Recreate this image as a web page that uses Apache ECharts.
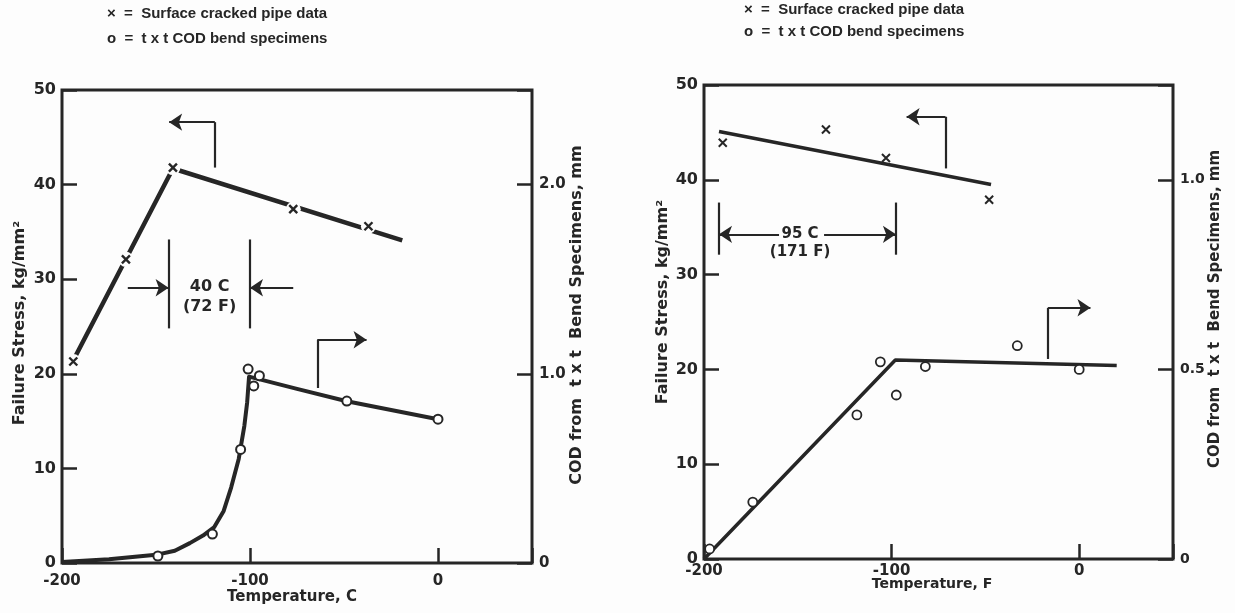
<!DOCTYPE html>
<html>
<head>
<meta charset="utf-8">
<script src="https://cdn.jsdelivr.net/npm/echarts@6/dist/echarts.min.js"></script>
<style>
  html, body { margin: 0; padding: 0; background: #fdfdfd; }
  #chart { width: 1235px; height: 613px; }
</style>
</head>
<body>
<div id="chart"></div>
<script>
// ---------- Left panel: temperature in degrees C ----------
const tempTicksC = ['-200', '-100', '0'];
const pipeTempC = [-194, -166, -141, -77, -37];
const pipeStressC = [21.3, 32.1, 41.8, 37.4, 35.6];
const pipeFitTempC = [-193, -141, -19];
const pipeFitStressC = [21.8, 41.7, 34.1];
const codTempC = [-149, -120, -105, -101, -98, -95, -48.5, 0];
const codC = [0.037, 0.153, 0.60, 1.025, 0.936, 0.99, 0.856, 0.76];
const codFitTempC = [-200, -175, -150, -140, -132, -125, -119, -114, -110, -106, -103, -101.5, -100.5, -75, -48.5, 0];
const codFitC = [0.005, 0.02, 0.043, 0.065, 0.105, 0.145, 0.19, 0.275, 0.40, 0.55, 0.725, 0.85, 0.985, 0.92, 0.855, 0.76];
// guide marks (stress units on the left axis)
const guideLinesC = [
  [[-118.7, 41.8], [-118.7, 46.6]],
  [[-64.2, 18.5], [-64.2, 23.6]],
  [[-143.3, 24.8], [-143.3, 34.2]],
  [[-100, 24.8], [-100, 34.2]]
];
const guideArrowsC = [
  [[-118.7, 46.6], [-143, 46.6]],
  [[-64.2, 23.6], [-38, 23.6]],
  [[-165, 29.1], [-143.3, 29.1]],
  [[-77, 29.1], [-100, 29.1]]
];
const guideTextC = [['40 C', -121.5, 29.2], ['(72 F)', -121.5, 27.1]];

// ---------- Right panel: temperature in degrees F ----------
const tempTicksF = ['-200', '-100', '0'];
const pipeTempF = [-190, -135, -103, -48];
const pipeStressF = [43.9, 45.3, 42.3, 37.9];
const pipeFitTempF = [-192, -47];
const pipeFitStressF = [45.1, 39.5];
const codTempF = [-197, -174, -118.5, -106, -97.5, -82, -33, 0];
const codF = [0.0265, 0.15, 0.38, 0.52, 0.4325, 0.5075, 0.5625, 0.50];
const codFitTempF = [-200, -98, 20];
const codFitF = [0, 0.525, 0.51];
const guideLinesF = [
  [[-71.3, 41.2], [-71.3, 46.65]],
  [[-16.6, 21.1], [-16.6, 26.5]],
  [[-192, 32.1], [-192, 37.6]],
  [[-97.7, 32.1], [-97.7, 37.6]]
];
const guideArrowsF = [
  [[-71.3, 46.65], [-92, 46.65]],
  [[-16.6, 26.5], [6, 26.5]],
  [[-160, 34.25], [-192, 34.25]],
  [[-136, 34.25], [-97.7, 34.25]]
];
const guideTextF = [['95 C', -148.8, 34.3], ['(171 F)', -148.8, 32.4]];

const legendLines = ['×  =  Surface cracked pipe data', 'o  =  t x t COD bend specimens'];
const stressTitle = 'Failure Stress, kg/mm²';
const codTitle = 'COD from  t x t  Bend Specimens, mm';

const INK = '#262626';
const BG = '#fdfdfd';
const FONT = '"DejaVu Sans", sans-serif';
const LEGEND_FONT = '"Liberation Sans", sans-serif';
const xMark = 'path://M0,0L10,10M10,0L0,10';

const zip = (xs, ys) => xs.map((x, i) => [x, ys[i]]);

function tempAxis(gridIndex, ticks) {
  return {
    type: 'value', gridIndex, min: -200, max: 50, interval: 100,
    axisLine: { show: false, onZero: false },
    axisTick: { inside: true, length: 15, lineStyle: { color: INK, width: 2.5 } },
    axisLabel: {
      color: INK, fontFamily: FONT, fontWeight: 'bold', fontSize: 15, margin: gridIndex === 0 ? 11 : 5,
      formatter: v => ticks.includes(String(v)) ? String(v) : ''
    },
    splitLine: { show: false }
  };
}
function stressAxis(gridIndex) {
  return {
    type: 'value', gridIndex, position: 'left', min: 0, max: 50, interval: 10,
    axisLine: { show: false, onZero: false },
    axisTick: { inside: true, length: 15, lineStyle: { color: INK, width: 2.5 } },
    axisLabel: { color: INK, fontFamily: FONT, fontWeight: 'bold', fontSize: 16, margin: 6 },
    splitLine: { show: false }
  };
}
function codAxis(gridIndex, max, interval, size) {
  return {
    type: 'value', gridIndex, position: 'right', min: 0, max, interval,
    axisLine: { show: false, onZero: false },
    axisTick: { inside: true, length: 15, lineStyle: { color: INK, width: 2.5 } },
    axisLabel: {
      color: INK, fontFamily: FONT, fontWeight: 'bold', fontSize: size, margin: 7,
      formatter: v => v === 0 ? '0' : (v > max - 1e-9 ? '' : v.toFixed(1))
    },
    splitLine: { show: false }
  };
}

function guideSeries(xi, yi, lines, arrows, texts, textSize) {
  return [
    {
      type: 'lines', coordinateSystem: 'cartesian2d', xAxisIndex: xi, yAxisIndex: yi,
      data: lines.map(c => ({ coords: c })), symbol: 'none', silent: true,
      lineStyle: { color: INK, width: 2.2, opacity: 1 }, z: 3
    },
    {
      type: 'lines', coordinateSystem: 'cartesian2d', xAxisIndex: xi, yAxisIndex: yi,
      data: arrows.map(c => ({ coords: c })), symbol: ['none', 'arrow'], symbolSize: 13, silent: true,
      lineStyle: { color: INK, width: 2.2, opacity: 1 }, z: 3
    },
    {
      type: 'scatter', xAxisIndex: xi, yAxisIndex: yi, symbolSize: 0, silent: true,
      itemStyle: { opacity: 1 },
      data: texts.map(t => ({ name: t[0], value: [t[1], t[2]] })),
      label: { show: true, position: 'inside', formatter: p => p.name, color: INK, fontFamily: FONT,
        fontWeight: 'bold', fontSize: textSize, opacity: 1 },
      z: 4
    }
  ];
}

const chart = echarts.init(document.getElementById('chart'), null, { renderer: 'canvas' });

const option = {
  backgroundColor: BG,
  animation: false,
  grid: [
    { left: 62, top: 90, width: 470, height: 473, show: true, borderColor: INK, borderWidth: 3, backgroundColor: 'transparent' },
    { left: 704, top: 85, width: 469, height: 474, show: true, borderColor: INK, borderWidth: 3, backgroundColor: 'transparent' }
  ],
  xAxis: [tempAxis(0, tempTicksC), tempAxis(1, tempTicksF)],
  yAxis: [stressAxis(0), codAxis(0, 2.5, 1, 15), stressAxis(1), codAxis(1, 1.25, 0.5, 14)],
  series: [
    // left panel
    { type: 'line', xAxisIndex: 0, yAxisIndex: 0, data: zip(pipeFitTempC, pipeFitStressC), symbol: 'none',
      lineStyle: { color: INK, width: 4.5 }, z: 2, silent: true },
    { type: 'scatter', xAxisIndex: 0, yAxisIndex: 0, data: zip(pipeTempC, pipeStressC), symbol: 'circle',
      symbolSize: 15, itemStyle: { color: BG, opacity: 1 }, z: 3, silent: true },
    { type: 'scatter', name: 'Surface cracked pipe data', xAxisIndex: 0, yAxisIndex: 0, data: zip(pipeTempC, pipeStressC),
      symbol: xMark, symbolSize: 8, itemStyle: { color: INK, borderColor: INK, borderWidth: 2.4, opacity: 1 }, z: 5 },
    { type: 'line', xAxisIndex: 0, yAxisIndex: 1, data: zip(codFitTempC, codFitC), symbol: 'none',
      lineStyle: { color: INK, width: 4, join: 'round' }, z: 2, silent: true },
    { type: 'scatter', name: 't x t COD bend specimens', xAxisIndex: 0, yAxisIndex: 1, data: zip(codTempC, codC),
      symbol: 'circle', symbolSize: 9, itemStyle: { color: '#ffffff', borderColor: INK, borderWidth: 2, opacity: 1 }, z: 5 },
    ...guideSeries(0, 0, guideLinesC, guideArrowsC, guideTextC, 16),
    // right panel
    { type: 'line', xAxisIndex: 1, yAxisIndex: 2, data: zip(pipeFitTempF, pipeFitStressF), symbol: 'none',
      lineStyle: { color: INK, width: 3.5 }, z: 2, silent: true },
    { type: 'scatter', name: 'Surface cracked pipe data', xAxisIndex: 1, yAxisIndex: 2, data: zip(pipeTempF, pipeStressF),
      symbol: xMark, symbolSize: 8, itemStyle: { color: INK, borderColor: INK, borderWidth: 2, opacity: 1 }, z: 5 },
    { type: 'line', xAxisIndex: 1, yAxisIndex: 3, data: zip(codFitTempF, codFitF), symbol: 'none',
      lineStyle: { color: INK, width: 3.5 }, z: 2, silent: true },
    { type: 'scatter', name: 't x t COD bend specimens', xAxisIndex: 1, yAxisIndex: 3, data: zip(codTempF, codF),
      symbol: 'circle', symbolSize: 9, itemStyle: { color: '#ffffff', borderColor: INK, borderWidth: 1.8, opacity: 1 }, z: 5 },
    ...guideSeries(1, 2, guideLinesF, guideArrowsF, guideTextF, 15)
  ],
  graphic: [
    { type: 'text', left: 107, top: 6, style: { text: legendLines[0], font: 'bold 15px ' + LEGEND_FONT, fill: INK } },
    { type: 'text', left: 107, top: 31, style: { text: legendLines[1], font: 'bold 15px ' + LEGEND_FONT, fill: INK } },
    { type: 'text', left: 744, top: 2, style: { text: legendLines[0], font: 'bold 15px ' + LEGEND_FONT, fill: INK } },
    { type: 'text', left: 744, top: 24, style: { text: legendLines[1], font: 'bold 15px ' + LEGEND_FONT, fill: INK } },
    { type: 'text', x: 20, y: 323, rotation: Math.PI / 2,
      style: { text: stressTitle, font: 'bold 16px ' + FONT, fill: INK, align: 'center', verticalAlign: 'middle' } },
    { type: 'text', x: 577, y: 315, rotation: Math.PI / 2,
      style: { text: codTitle, font: 'bold 16px ' + FONT, fill: INK, align: 'center', verticalAlign: 'middle' } },
    { type: 'text', x: 292, y: 597,
      style: { text: 'Temperature, C', font: 'bold 15px ' + FONT, fill: INK, align: 'center', verticalAlign: 'middle' } },
    { type: 'text', x: 663, y: 302, rotation: Math.PI / 2,
      style: { text: stressTitle, font: 'bold 16px ' + FONT, fill: INK, align: 'center', verticalAlign: 'middle' } },
    { type: 'text', x: 1215, y: 309, rotation: Math.PI / 2,
      style: { text: codTitle, font: 'bold 15px ' + FONT, fill: INK, align: 'center', verticalAlign: 'middle' } },
    { type: 'text', x: 932, y: 584,
      style: { text: 'Temperature, F', font: 'bold 14px ' + FONT, fill: INK, align: 'center', verticalAlign: 'middle' } }
  ]
};

chart.setOption(option);
</script>
</body>
</html>
